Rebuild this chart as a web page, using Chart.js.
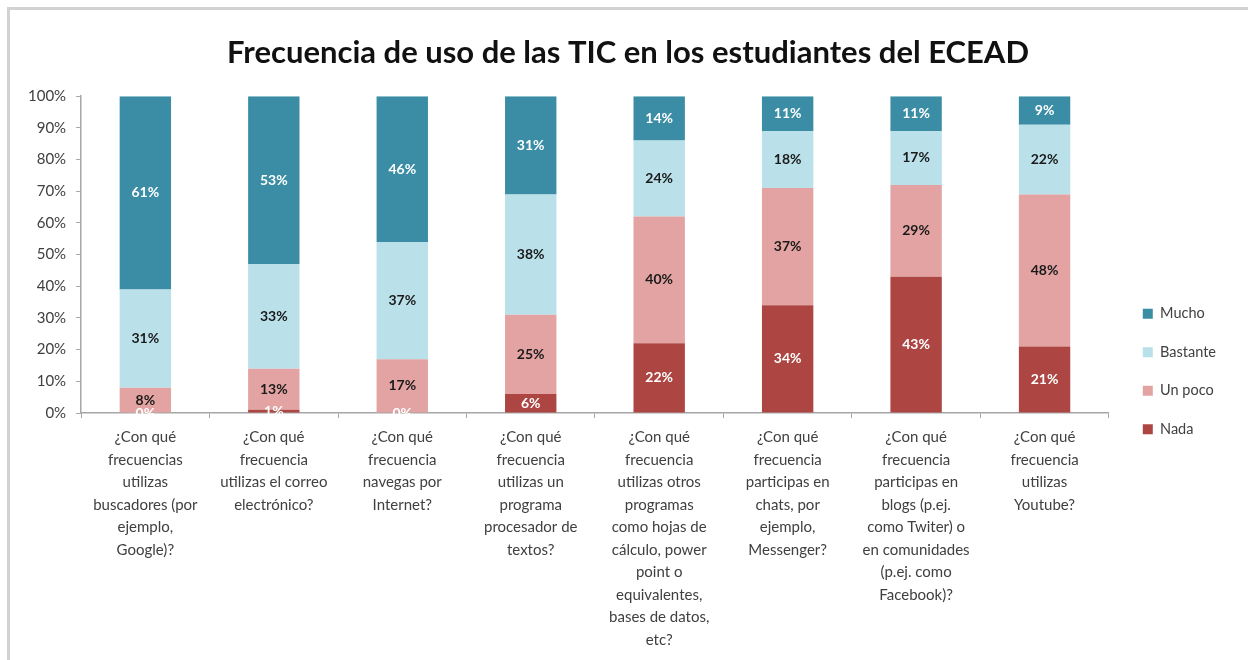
<!DOCTYPE html>
<html>
<head>
<meta charset="utf-8">
<script src="https://cdn.jsdelivr.net/npm/chart.js@4"></script>
<style>
  html, body { margin: 0; padding: 0; background: #fff; }
  #wrap { position: relative; width: 1248px; height: 660px; overflow: hidden; }
  #frame { position: absolute; left: 7px; top: 7px; width: 1300px; height: 700px;
           border-top: 3px solid #d2d2d2; border-left: 3px solid #d2d2d2; }
  canvas { position: absolute; left: 0; top: 0; }
</style>
</head>
<body>
<div id="wrap">
  <div id="frame"></div>
  <canvas id="ticChart" width="1248" height="660"></canvas>
</div>
<script>
// categories (multi-line labels as in the original)
const preguntas = [
    ['¿Con qué', 'frecuencias', 'utilizas', 'buscadores (por', 'ejemplo,', 'Google)?'],
    ['¿Con qué', 'frecuencia', 'utilizas el correo', 'electrónico?'],
    ['¿Con qué', 'frecuencia', 'navegas por', 'Internet?'],
    ['¿Con qué', 'frecuencia', 'utilizas un', 'programa', 'procesador de', 'textos?'],
    ['¿Con qué', 'frecuencia', 'utilizas otros', 'programas', 'como hojas de', 'cálculo, power', 'point o', 'equivalentes,', 'bases de datos,', 'etc?'],
    ['¿Con qué', 'frecuencia', 'participas en', 'chats, por', 'ejemplo,', 'Messenger?'],
    ['¿Con qué', 'frecuencia', 'participas en', 'blogs (p.ej.', 'como Twiter) o', 'en comunidades', '(p.ej. como', 'Facebook)?'],
    ['¿Con qué', 'frecuencia', 'utilizas', 'Youtube?']
];

// series values (%)
const nada     = [0, 1, 0, 6, 22, 34, 43, 21];
const unPoco   = [8, 13, 17, 25, 40, 37, 29, 48];
const bastante = [31, 33, 37, 38, 24, 18, 17, 22];
const mucho    = [61, 53, 46, 31, 14, 11, 11, 9];

const yTicks = [0, 10, 20, 30, 40, 50, 60, 70, 80, 90, 100];

const FONT = 'Lato, "Open Sans", sans-serif';

// labels inside each segment
const segmentLabels = {
    id: 'segmentLabels',
    afterDatasetsDraw(chart) {
        const ctx = chart.ctx;
        ctx.save();
        ctx.font = 'bold 14px ' + FONT;
        ctx.textAlign = 'center';
        ctx.textBaseline = 'middle';
        chart.data.datasets.forEach((ds, i) => {
            const meta = chart.getDatasetMeta(i);
            if (meta.hidden) return;
            ctx.fillStyle = ds.labelColor;
            meta.data.forEach((bar, j) => {
                const p = bar.getProps(['x', 'y', 'base'], true);
                ctx.fillText(ds.data[j] + '%', p.x, (p.y + p.base) / 2);
            });
        });
        ctx.restore();
    }
};

// nudge the legend and title to sit where the original has them
const boxNudge = {
    id: 'boxNudge',
    afterLayout(chart) {
        const l = chart.legend;
        if (l) {
            l.left += 10; l.right += 10;
            l.top += 42; l.bottom += 42;
        }
        const t = chart.titleBlock;
        if (t) {
            t.left += 11; t.right += 11;
        }
    }
};

new Chart(document.getElementById('ticChart').getContext('2d'), {
    type: 'bar',
    data: {
        labels: preguntas,
        datasets: [
            { label: 'Nada',     data: nada,     backgroundColor: '#AD4642', labelColor: '#ffffff' },
            { label: 'Un poco',  data: unPoco,   backgroundColor: '#E2A3A2', labelColor: '#1a1a1a' },
            { label: 'Bastante', data: bastante, backgroundColor: '#BAE0EA', labelColor: '#1a1a1a' },
            { label: 'Mucho',    data: mucho,    backgroundColor: '#3B8DA5', labelColor: '#ffffff' }
        ]
    },
    options: {
        responsive: false,
        animation: false,
        devicePixelRatio: 1,
        datasets: {
            bar: { barPercentage: 0.4, categoryPercentage: 1.0, borderWidth: 0 }
        },
        layout: { padding: { left: 18, right: 32, bottom: 1 } },
        scales: {
            x: {
                stacked: true,
                offset: true,
                grid: {
                    offset: true,
                    drawOnChartArea: false,
                    drawTicks: true,
                    tickLength: 5,
                    color: '#a6a6a6'
                },
                border: { color: '#a6a6a6', width: 1.5 },
                ticks: {
                    autoSkip: false,
                    maxRotation: 0,
                    minRotation: 0,
                    padding: 8,
                    color: '#404040',
                    font: { family: FONT, size: 15, lineHeight: 1.5 }
                }
            },
            y: {
                stacked: true,
                min: 0,
                max: 100,
                afterBuildTicks(axis) {
                    axis.ticks = yTicks.map(v => ({ value: v }));
                },
                grid: {
                    drawOnChartArea: false,
                    drawTicks: true,
                    tickLength: 5,
                    color: '#a6a6a6'
                },
                border: { color: '#a6a6a6', width: 1.5 },
                ticks: {
                    padding: 10,
                    color: '#404040',
                    font: { family: FONT, size: 15 },
                    callback: function(value) {
                        return value + '%';
                    }
                }
            }
        },
        plugins: {
            title: {
                display: true,
                text: 'Frecuencia de uso de las TIC en los estudiantes del ECEAD',
                color: '#111',
                font: { family: FONT, size: 31, weight: 'bold', lineHeight: 1.2 },
                padding: { top: 34, bottom: 25 }
            },
            legend: {
                display: true,
                position: 'right',
                align: 'center',
                reverse: true,
                labels: {
                    boxWidth: 10,
                    boxHeight: 10,
                    padding: 24,
                    color: '#404040',
                    font: { family: FONT, size: 14.5 }
                }
            },
            tooltip: { enabled: false }
        }
    },
    plugins: [segmentLabels, boxNudge]
});
</script>
</body>
</html>
